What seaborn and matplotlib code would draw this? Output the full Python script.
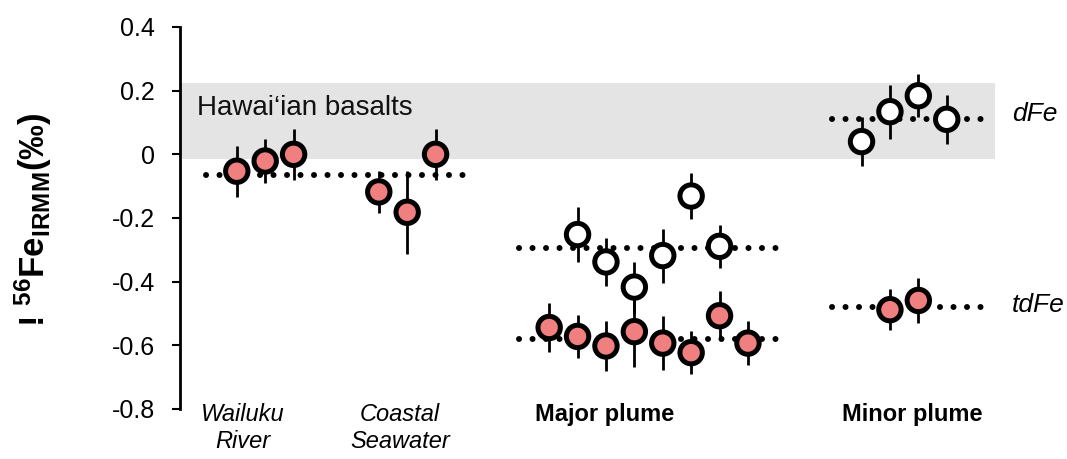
import numpy as np
import pandas as pd
import matplotlib
matplotlib.use("Agg")
import matplotlib.pyplot as plt
import seaborn as sns

# ---------------- data ----------------
wailuku_td = [-0.053, -0.021, 0.000]
wailuku_td_err = [0.080, 0.070, 0.080]
coastal_td = [-0.118, -0.182, 0.000]
coastal_td_err = [0.067, 0.130, 0.080]
major_td = [-0.544, -0.572, -0.602, -0.557, -0.593, -0.623, -0.507, -0.593]
major_td_err = [0.078, 0.068, 0.080, 0.110, 0.085, 0.067, 0.077, 0.070]
major_d = [-0.252, -0.338, -0.417, -0.318, -0.131, -0.289]
major_d_err = [0.085, 0.075, 0.080, 0.085, 0.073, 0.067]
minor_d = [0.040, 0.134, 0.184, 0.110]
minor_d_err = [0.078, 0.085, 0.068, 0.077]
minor_td = [-0.488, -0.459]
minor_td_err = [0.064, 0.070]

# mean levels (dotted lines)
mean_river_coastal = -0.066
mean_major_d = -0.294
mean_major_td = -0.580
mean_minor_d = 0.110
mean_minor_td = -0.480

basalt_range = (-0.015, 0.225)

group_labels = ["Wailuku\nRiver", "Coastal\nSeawater", "Major plume", "Minor plume"]
fraction_labels = ["dFe", "tdFe"]
band_label = "Hawai\u2018ian basalts"
yticks = [0.4, 0.2, 0, -0.2, -0.4, -0.6, -0.8]
ytick_labels = ["0.4", "0.2", "0", "-0.2", "-0.4", "-0.6", "-0.8"]

# ---------------- layout (slot positions) ----------------
wailuku_x = [2, 3, 4]
coastal_x = [7, 8, 9]
major_td_x = [13, 14, 15, 16, 17, 18, 19, 20]
major_d_x = [14, 15, 16, 17, 18, 19]
minor_d_x = [24, 25, 26, 27]
minor_td_x = [25, 26]

rows = []
def add(xs, vals, errs, frac):
    for x, v, e in zip(xs, vals, errs):
        rows.append({"x": x, "value": v, "err": e, "fraction": frac})
add(wailuku_x, wailuku_td, wailuku_td_err, "tdFe")
add(coastal_x, coastal_td, coastal_td_err, "tdFe")
add(major_td_x, major_td, major_td_err, "tdFe")
add(major_d_x, major_d, major_d_err, "dFe")
add(minor_d_x, minor_d, minor_d_err, "dFe")
add(minor_td_x, minor_td, minor_td_err, "tdFe")
df = pd.DataFrame(rows)

# ---------------- style ----------------
sns.set_theme(style="white")
plt.rcParams["font.family"] = ["Liberation Sans", "DejaVu Sans"]
plt.rcParams["text.color"] = "black"
plt.rcParams["ytick.color"] = "black"
plt.rcParams["axes.labelcolor"] = "black"
plt.rcParams["mathtext.fontset"] = "custom"
plt.rcParams["mathtext.rm"] = "Liberation Sans"
plt.rcParams["mathtext.bf"] = "Liberation Sans:bold"
plt.rcParams["mathtext.it"] = "Liberation Sans:italic"

fig = plt.figure(figsize=(10.67, 4.59), dpi=100)
ax = fig.add_axes([180 / 1067, 1 - 409 / 459, (995 - 180) / 1067, (409 - 27) / 459])

ax.set_xlim(0, 28.7)
ax.set_ylim(-0.8, 0.4)

# Hawaiian basalt band
ax.axhspan(basalt_range[0], basalt_range[1], xmin=0, xmax=1, color="#e4e4e4", zorder=0, lw=0)
ax.text(0.6, 0.145, band_label, fontsize=20, color="#111111", va="center", ha="left", zorder=1)

# dotted mean lines
dot_style = dict(color="black", lw=4.3, linestyle=(0, (0.01, 2.25)), dash_capstyle="round",
                 solid_capstyle="round", zorder=1.5)
ax.plot([0.9, 10.05], [mean_river_coastal] * 2, **dot_style)
ax.plot([11.95, 21.1], [mean_major_d] * 2, **dot_style)
ax.plot([11.95, 21.1], [mean_major_td] * 2, **dot_style)
ax.plot([22.95, 28.3], [mean_minor_d] * 2, **dot_style)
ax.plot([22.95, 28.3], [mean_minor_td] * 2, **dot_style)

# error bars
ax.errorbar(df["x"], df["value"], yerr=df["err"], fmt="none", ecolor="black",
            elinewidth=2.0, capsize=0, zorder=2)

# markers
sns.scatterplot(data=df, x="x", y="value", hue="fraction",
                palette={"tdFe": "#f07f7f", "dFe": "white"},
                s=260, edgecolor="black", linewidth=3.6, legend=False, zorder=3, ax=ax)

# fraction labels
ax.text(29.3, 0.126, fraction_labels[0], fontsize=19, style="italic",
        va="center", ha="left", clip_on=False)
ax.text(29.3, -0.472, fraction_labels[1], fontsize=19, style="italic",
        va="center", ha="left", clip_on=False)

# group labels
ytop = -0.78
ax.text(2.2, ytop, group_labels[0], fontsize=17, style="italic",
        ha="center", va="top", linespacing=1.25, clip_on=False)
ax.text(7.75, ytop, group_labels[1], fontsize=17, style="italic",
        ha="center", va="top", linespacing=1.25, clip_on=False)
ax.text(14.96, ytop, group_labels[2], fontsize=17, weight="bold",
        ha="center", va="top", clip_on=False)
ax.text(25.8, ytop, group_labels[3], fontsize=17, weight="bold",
        ha="center", va="top", clip_on=False)

# axes styling
ax.set_yticks(yticks)
ax.set_yticklabels(ytick_labels, fontsize=18)
ax.set_xticks([])
ax.set_xlabel("")
for side in ["top", "right", "bottom"]:
    ax.spines[side].set_visible(False)
ax.spines["left"].set_color("black")
ax.spines["left"].set_linewidth(2)
ax.spines["left"].set_bounds(-0.8, 0.4)
ax.tick_params(axis="y", direction="out", length=6, width=1.5, color="black", left=True, pad=12)

ax.set_ylabel(r"! $\mathbf{^{56}Fe_{IRMM}}$(‰)", fontsize=25, weight="bold")
ax.yaxis.set_label_coords(-0.155, 0.495)

fig.savefig("out.png", dpi=100)
